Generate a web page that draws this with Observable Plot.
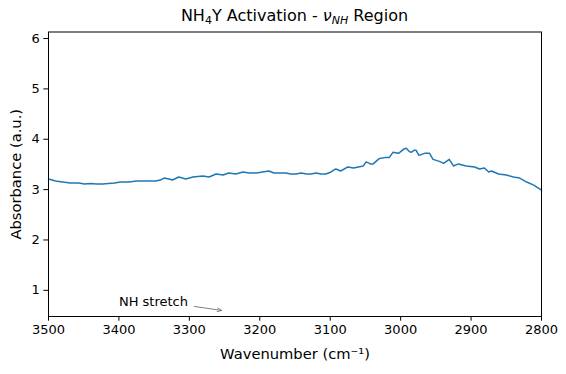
<!DOCTYPE html>
<html>
<head>
<meta charset="utf-8">
<script src="https://cdn.jsdelivr.net/npm/d3@7"></script>
<script src="https://cdn.jsdelivr.net/npm/@observablehq/plot@0.6"></script>
<style>
  html, body { margin: 0; padding: 0; background: #fff; }
  #wrap { position: relative; width: 566px; height: 374px; font-family: "DejaVu Sans", sans-serif; }
  #title { position: absolute; left: 48px; width: 493px; top: 6px; text-align: center; font-size: 16px; line-height: 20px; color: #000; white-space: nowrap; }
  #title sub { font-size: 11px; vertical-align: -3px; line-height: 0; }
</style>
</head>
<body>
<div id="wrap">
  <div id="title">NH<sub>4</sub>Y Activation - <i>ν</i><sub><i>NH</i></sub> Region</div>
  <div id="chart"></div>
</div>
<script>
const wavenumber = [3500,3490,3480,3469,3457,3449,3440,3432,3423,3415,3406,3398,3386,3375,3362,3348,3341,3336,3329,3324,3315,3305,3295,3281,3272,3262,3252,3244,3234,3224,3215,3205,3196,3187,3180,3173,3163,3156,3149,3141,3134,3127,3120,3113,3106,3099,3092,3085,3075,3067,3060,3053,3049,3043,3039,3030,3021,3016,3011,3003,2996,2992,2988,2985,2981,2978,2974,2966,2959,2954,2945,2939,2931,2925,2918,2907,2895,2888,2881,2875,2871,2861,2850,2840,2831,2821,2811,2800];
const absorbance = [3.21,3.17,3.15,3.13,3.13,3.11,3.12,3.11,3.11,3.12,3.13,3.15,3.15,3.17,3.17,3.17,3.19,3.23,3.21,3.19,3.25,3.21,3.25,3.27,3.25,3.31,3.29,3.33,3.31,3.35,3.33,3.33,3.35,3.37,3.33,3.33,3.33,3.31,3.31,3.33,3.31,3.31,3.33,3.31,3.31,3.35,3.41,3.37,3.45,3.43,3.45,3.47,3.55,3.51,3.51,3.62,3.64,3.64,3.74,3.72,3.80,3.82,3.76,3.74,3.78,3.78,3.68,3.72,3.72,3.60,3.56,3.52,3.60,3.47,3.51,3.47,3.45,3.41,3.43,3.35,3.37,3.31,3.29,3.25,3.23,3.15,3.09,2.99];

const xTicks = [3500,3400,3300,3200,3100,3000,2900,2800];
const yTicks = [1,2,3,4,5,6];
const xDomain = [3500, 2800];
const yDomain = [0.48, 6.13];

const annText = ["NH stretch"];
const annTextX = [3400];
const annTextY = [0.69];
const arrowX1 = [3293];
const arrowY1 = [0.68];
const arrowX2 = [3254];
const arrowY2 = [0.6];

const xLabel = "Wavenumber (cm⁻¹)";
const yLabel = "Absorbance (a.u.)";

const spectrum = wavenumber.map((w, i) => ({w, a: absorbance[i]}));
const ann = annText.map((t, i) => ({t, x: annTextX[i], y: annTextY[i]}));
const arrows = arrowX1.map((x1, i) => ({x1, y1: arrowY1[i], x2: arrowX2[i], y2: arrowY2[i]}));

const chart = Plot.plot({
  width: 566,
  height: 374,
  marginLeft: 48,
  marginRight: 25,
  marginTop: 31.5,
  marginBottom: 58,
  style: {fontFamily: "DejaVu Sans", fontSize: "13px", color: "#000", background: "#fff", overflow: "visible"},
  x: {domain: xDomain, label: null},
  y: {domain: yDomain, label: null},
  marks: [
    Plot.axisX({ticks: xTicks, tickSize: 4.7, tickPadding: 4, tickFormat: d => String(d), label: null, fontSize: 13}),
    Plot.axisY({ticks: yTicks, tickSize: 4.7, tickPadding: 4, tickFormat: d => String(d), label: null, fontSize: 13}),
    Plot.line(spectrum, {x: "w", y: "a", stroke: "#1f77b4", strokeWidth: 1.5}),
    Plot.arrow(arrows, {x1: "x1", y1: "y1", x2: "x2", y2: "y2", stroke: "gray", strokeWidth: 1, headLength: 7, headAngle: 45, bend: 0}),
    Plot.text(ann, {x: "x", y: "y", text: "t", textAnchor: "start", lineAnchor: "bottom", fontSize: 13, fill: "#000"}),
    Plot.text([xLabel], {frameAnchor: "bottom", dy: 38, text: d => d, fontSize: 14.7, fill: "#000", textAnchor: "middle", lineAnchor: "middle"}),
    Plot.text([yLabel], {frameAnchor: "left", dx: -32, rotate: -90, text: d => d, fontSize: 14.7, fill: "#000", textAnchor: "middle", lineAnchor: "middle"}),
    Plot.frame({stroke: "#000", strokeWidth: 1})
  ]
});
document.getElementById("chart").appendChild(chart);
</script>
</body>
</html>
